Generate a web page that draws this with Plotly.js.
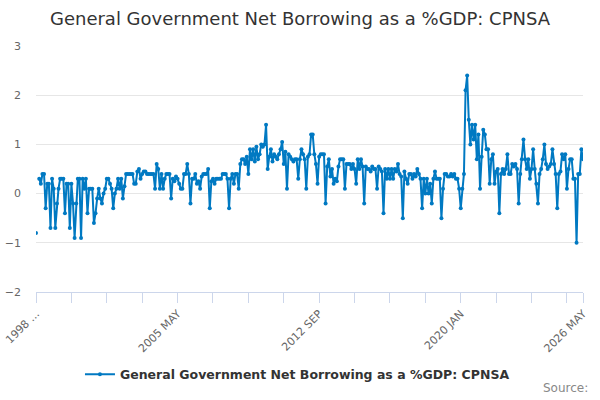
<!DOCTYPE html>
<html>
<head>
<meta charset="utf-8">
<script src="https://cdn.plot.ly/plotly-3.0.1.min.js"></script>
<style>
  html, body { margin: 0; padding: 0; background: #fff; }
  #chart { width: 600px; height: 400px; }
</style>
</head>
<body>
<div id="chart"></div>
<script>
const SERIES_NAME = 'General Government Net Borrowing as a %GDP: CPNSA';
const monthNames = ['JAN', 'FEB', 'MAR', 'APR', 'MAY', 'JUN', 'JUL', 'AUG', 'SEP', 'OCT', 'NOV', 'DEC'];
const firstYear = 1998;

// monthly values, one row per year, 1998 JAN .. 2026 MAY
const values = [
  -0.8, null, 0.3, 0.2, 0.4, 0.4, -0.3, 0.2, 0.2, -0.7, 0.3, 0.1,        // 1998
  -0.7, -0.2, 0.1, 0.3, 0.3, 0.3, -0.4, 0.2, 0.2, -0.7, 0.2, -0.2,       // 1999
  -0.9, -0.2, 0.3, 0.3, -0.9, 0.3, 0.1, 0.3, -0.4, 0.1, 0.1, 0.1,        // 2000
  -0.6, -0.4, -0.1, 0.1, -0.1, -0.2, 0.0, 0.1, 0.3, 0.3, 0.2, 0.1,       // 2001
  -0.3, 0.0, 0.1, 0.3, 0.1, 0.3, -0.1, 0.15, 0.4, 0.4, 0.4, 0.4,         // 2002
  0.4, 0.2, 0.2, 0.45, 0.5, 0.3, 0.4, 0.45, 0.45, 0.4, 0.4, 0.4,         // 2003
  0.4, 0.4, 0.1, 0.6, 0.5, 0.1, 0.4, 0.1, 0.3, 0.4, 0.4, 0.4,            // 2004
  -0.1, 0.3, 0.25, 0.35, 0.3, 0.2, 0.1, 0.1, 0.4, 0.4, 0.6, 0.4,         // 2005
  -0.2, 0.3, 0.3, 0.4, 0.2, 0.25, 0.1, 0.35, 0.4, 0.4, 0.4, 0.5,         // 2006
  -0.3, 0.25, 0.3, 0.2, 0.3, 0.3, 0.3, 0.3, 0.4, 0.4, 0.4, 0.3,          // 2007
  -0.3, 0.3, 0.4, 0.2, 0.4, 0.4, 0.1, 0.6, 0.7, 0.7, 0.6, 0.75,          // 2008
  0.4, 0.9, 0.7, 0.9, 0.65, 0.95, 0.7, 0.8, 1.0, 0.95, 1.0, 1.4,         // 2009
  0.5, 0.75, 0.9, 0.65, 0.8, 0.75, 0.7, 0.8, 0.9, 1.05, 0.6, 0.85,       // 2010
  0.1, 0.8, 0.75, 0.7, 0.65, 0.7, 0.7, 0.3, 0.7, 0.9, 0.8, 0.7,          // 2011
  0.1, 0.75, 0.8, 1.2, 1.2, 0.8, 0.6, 0.2, 0.75, 0.8, 0.8, 0.8,          // 2012
  -0.2, 0.55, 0.7, 0.35, 0.5, 0.2, 0.3, 0.25, 0.55, 0.7, 0.7, 0.7,       // 2013
  0.1, 0.6, 0.6, 0.6, 0.5, 0.6, 0.5, 0.2, 0.7, 0.5, 0.7, 0.55,           // 2014
  -0.2, 0.55, 0.5, 0.5, 0.45, 0.55, 0.5, 0.5, 0.1, 0.55, 0.5, 0.45,      // 2015
  -0.4, 0.5, 0.3, 0.5, 0.3, 0.5, 0.3, 0.5, 0.45, 0.6, 0.4, 0.35,         // 2016
  -0.5, 0.45, 0.3, 0.2, 0.4, 0.4, 0.3, 0.4, 0.35, 0.5, 0.4, 0.3,         // 2017
  -0.3, 0.3, 0.0, 0.3, 0.0, 0.2, -0.2, 0.3, 0.45, 0.3, 0.3, 0.3,         // 2018
  -0.5, 0.1, 0.4, 0.4, 0.35, 0.35, 0.4, 0.35, 0.4, 0.3, 0.3, 0.1,        // 2019
  -0.3, 0.1, 0.4, 2.1, 2.4, 1.5, 1.0, 1.4, 1.1, 1.4, 0.7, 1.2,           // 2020
  0.1, 0.75, 1.3, 1.2, 0.9, 0.9, 0.2, 0.7, 0.8, 0.2, 0.45, 0.5,          // 2021
  -0.4, 0.4, 0.5, 0.4, 0.5, 0.8, 0.4, 0.4, 0.6, 0.55, 0.6, 0.5,          // 2022
  -0.2, 0.4, 0.7, 1.1, 0.7, 0.5, 0.7, 0.3, 0.5, 0.9, 0.5, 0.2,           // 2023
  -0.2, 0.4, 0.5, 0.7, 1.0, 0.6, 0.5, 0.55, 0.6, 0.9, 0.6, 0.4,          // 2024
  -0.3, 0.4, 0.45, 0.8, 0.7, 0.8, 0.1, 0.5, 0.7, 0.7, 0.3, 0.3,          // 2025
  -1.0, 0.4, 0.4, 0.9, 0.7                                               // 2026
];

const categories = values.map((_, i) => `${firstYear + Math.floor(i / 12)} ${monthNames[i % 12]}`);

// tick every 22 months plus the last month; only every 4th one is labelled
const tickIdx = [0, 22, 44, 66, 88, 110, 132, 154, 176, 198, 220, 242, 264, 286, 308, 330, 340];
const tickLabels = ['1998 ...', '', '', '', '2005 MAY', '', '', '', '2012 SEP', '', '', '', '2020 JAN', '', '', '', '2026 MAY'];

const yTicks = [-2, -1, 0, 1, 2, 3];

const FONT = 'DejaVu Sans, sans-serif';
const BLUE = '#0079c2';

const trace = {
  type: 'scatter',
  mode: 'lines+markers',
  x: categories,
  y: values,
  name: SERIES_NAME,
  connectgaps: false,
  line: { color: BLUE, width: 2 },
  marker: { color: BLUE, size: 4 },
  hoverinfo: 'x+y',
};

Plotly.newPlot('chart', [trace], {
  width: 600,
  height: 400,
  title: {
    text: SERIES_NAME,
    font: { family: FONT, size: 18, color: '#333' },
    x: 0.5, xanchor: 'center',
    yref: 'container', y: 0.953, yanchor: 'middle',
  },
  paper_bgcolor: '#fff',
  plot_bgcolor: '#fff',
  font: { family: FONT, color: '#666', size: 11 },
  margin: { l: 36, r: 17, t: 46, b: 107 },
  xaxis: {
    type: 'category',
    range: [0, categories.length - 1],
    tickmode: 'array',
    tickvals: tickIdx.map(i => categories[i]),
    ticktext: tickLabels,
    tickangle: -45,
    ticks: 'outside',
    ticklen: 10,
    tickcolor: '#ccd6eb',
    showline: true,
    linecolor: '#ccd6eb',
    showgrid: false,
    zeroline: false,
    tickfont: { family: FONT, size: 11, color: '#666' },
  },
  yaxis: {
    range: [-2, 3],
    tickmode: 'array',
    tickvals: yTicks,
    gridcolor: '#e6e6e6',
    zeroline: false,
    ticklabelstandoff: 14,
    tickfont: { family: FONT, size: 11, color: '#666' },
  },
  showlegend: true,
  legend: {
    orientation: 'h',
    x: 0.478, xanchor: 'center',
    y: -0.33, yanchor: 'middle',
    font: { family: FONT, size: 12.5, color: '#333', weight: 'bold' },
  },
  annotations: [{
    text: 'Source:',
    xref: 'paper', yref: 'paper',
    x: 1.013, xanchor: 'right',
    y: -0.39, yanchor: 'middle',
    showarrow: false,
    font: { family: FONT, size: 12, color: '#888' },
  }],
}, { displayModeBar: false, staticPlot: true });
</script>
</body>
</html>
